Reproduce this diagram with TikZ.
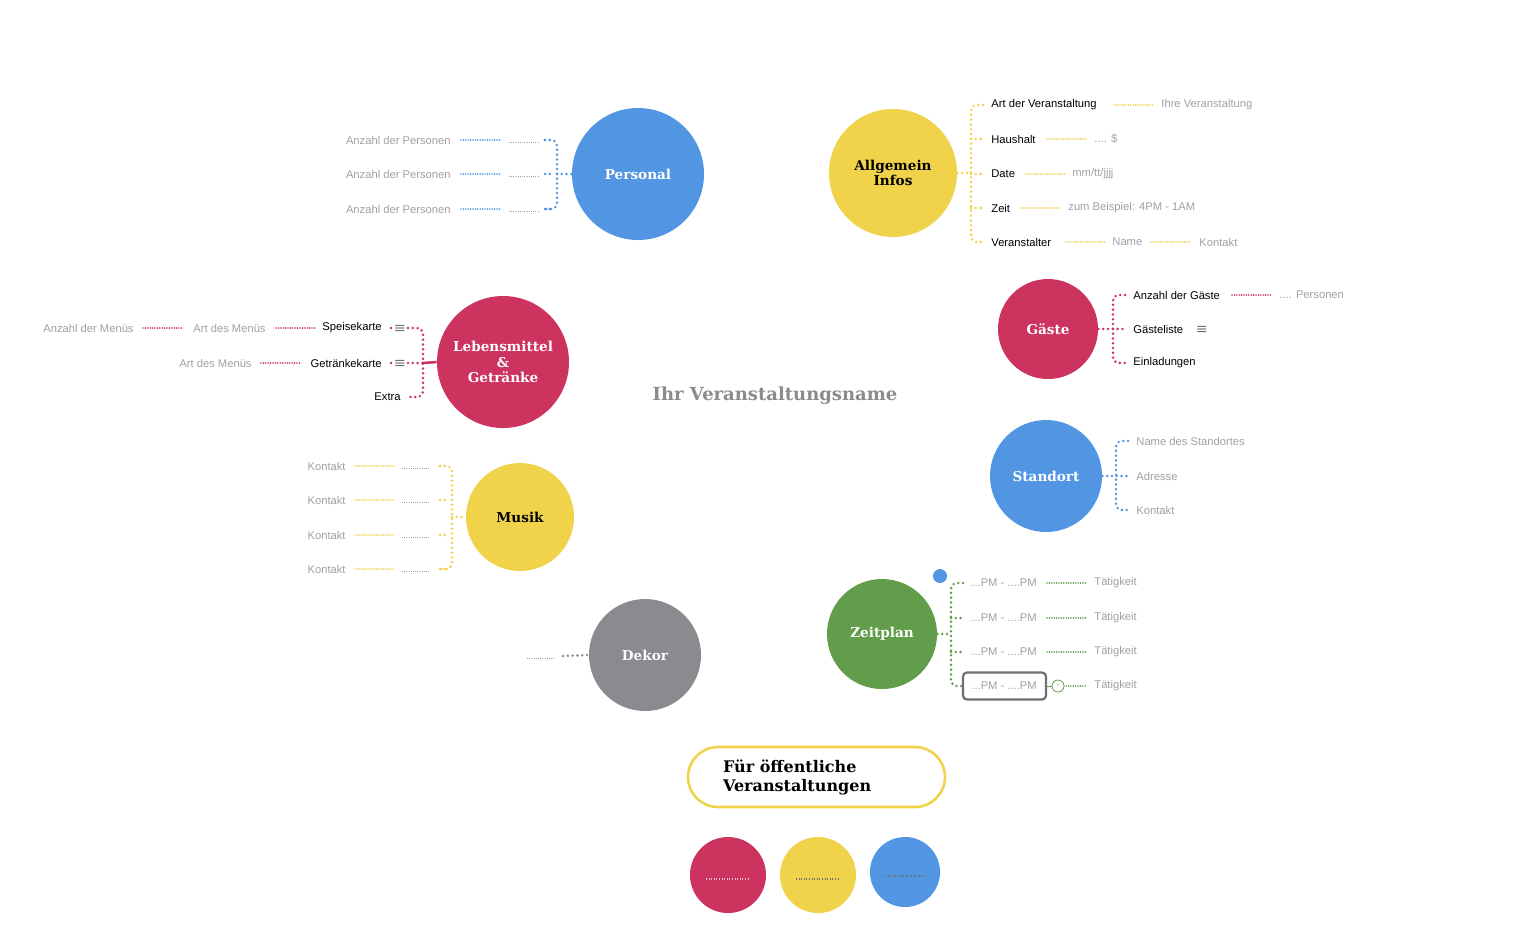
\documentclass[tikz,border=0pt]{standalone}
\usepackage{fontspec}
\setmainfont{Liberation Sans}
\newfontfamily\ttl{DejaVu Serif}
\begin{document}
\definecolor{cb}{HTML}{5295E2}
\definecolor{cy}{HTML}{F0D24B}
\definecolor{cr}{HTML}{CC335E}
\definecolor{cg}{HTML}{619D4A}
\definecolor{ck}{HTML}{8B8B8F}
\definecolor{tg}{HTML}{A0A0A0}
\begin{tikzpicture}[x=0.5pt,y=-0.5pt,
  circ/.style={circle,fill=#1,draw=none,inner sep=0pt},
  ttlt/.style={font=\ttl\bfseries\fontsize{6.8}{7.8}\selectfont,text=white,align=center},
  lbl/.style={font=\fontsize{5.6}{6.5}\selectfont,inner sep=1pt},
  gl/.style={lbl,text=tg},
  bl/.style={lbl,text=black},
  dl/.style={draw=#1,line width=1.4pt,line cap=round,dash pattern=on 0pt off 2.4pt},
  tl/.style={draw=#1,line width=0.9pt,line cap=round,dash pattern=on 0pt off 1.2pt},
  sd/.style={draw=tg,line width=0.5pt,dash pattern=on 0.4pt off 0.7pt},
  rc/.style={rounded corners=3pt}]
\useasboundingbox (0,0) rectangle (1536,950);
% Personal
\node[circ=cb,minimum size=66pt] (P) at (638,174) {};
\node[ttlt] at (P) {Personal};
\foreach \y in {140,174,209}{
 \node[gl,anchor=east] at (453,\y) {Anzahl der Personen};
 \draw[tl=cb] (461,\y) -- (500,\y);
 \draw[sd] (509,\y+2) -- (538,\y+2);
 \draw[dl=cb] (545,\y) -- (553,\y);}
\draw[dl=cb,rc] (545,140) -- (557,140) -- (557,209) -- (545,209);
\draw[dl=cb] (557,174) -- (P.west);
% Allgemein
\node[circ=cy,minimum size=64pt] (A) at (893,173) {};
\node[ttlt,text=black] at (A) {Allgemein\\Infos};
\draw[dl=cy,rc] (983,105) -- (971,105) -- (971,242) -- (983,242);
\draw[dl=cy] (A.east) -- (971,173);
\foreach \y in {139,174,208}{\draw[dl=cy] (971,\y) -- (983,\y);}
\node[bl,anchor=west] at (989,105) {Art der Veranstaltung};
\draw[tl=cy] (1114,105) -- (1153,105);
\node[gl,anchor=west] at (1159,105) {Ihre Veranstaltung};
\node[bl,anchor=west] at (989,139) {Haushalt};
\draw[tl=cy] (1047,139) -- (1086,139);
\node[gl,anchor=west] at (1092,139) {.... \$};
\node[bl,anchor=west] at (989,174) {Date};
\draw[tl=cy] (1026,174) -- (1065,174);
\node[gl,anchor=west] at (1070,174) {mm/tt/jjjj};
\node[bl,anchor=west] at (989,208) {Zeit};
\draw[tl=cy] (1021,208) -- (1060,208);
\node[gl,anchor=west] at (1066,208) {zum Beispiel: 4PM - 1AM};
\node[bl,anchor=west] at (989,242) {Veranstalter};
\draw[tl=cy] (1066,242) -- (1105,242);
\node[gl,anchor=west] at (1110,242) {Name};
\draw[tl=cy] (1151,242) -- (1190,242);
\node[gl,anchor=west] at (1197,242) {Kontakt};
% Gaeste
\node[circ=cr,minimum size=50pt] (G) at (1048,329) {};
\node[ttlt] at (G) {Gäste};
\draw[dl=cr,rc] (1125,295) -- (1113,295) -- (1113,363) -- (1125,363);
\draw[dl=cr] (G.east) -- (1125,329);
\node[bl,anchor=west] at (1131,295) {Anzahl der Gäste};
\draw[tl=cr] (1232,295) -- (1271,295);
\node[gl,anchor=west] at (1277,295) {.... Personen};
\node[bl,anchor=west] at (1131,329) {Gästeliste};
\node[bl] at (1202,329) {$\equiv$};
\node[bl,anchor=west] at (1131,363) {Einladungen};
% Lebensmittel
\node[circ=cr,minimum size=66pt] (L) at (503,362) {};
\node[ttlt] at (L) {Lebensmittel\\\&\\Getränke};
\draw[dl=cr,rc] (408,328) -- (423,328) -- (423,397) -- (408,397);
\draw[dl=cr] (408,363) -- (423,363);
\draw[cr,line width=1.3pt] (423,363) -- (L.west);
\node[bl,anchor=east] at (384,328) {Speisekarte};
\node[bl] at (400,328) {$\equiv$};
\draw[dl=cr] (391,328) -- (392,328);
\node[bl,anchor=east] at (384,363) {Getränkekarte};
\node[bl] at (400,363) {$\equiv$};
\draw[dl=cr] (391,363) -- (392,363);
\node[bl,anchor=east] at (403,397) {Extra};
\draw[tl=cr] (276,328) -- (315,328);
\node[gl,anchor=east] at (268,328) {Art des Menüs};
\draw[tl=cr] (143,328) -- (183,328);
\node[gl,anchor=east] at (136,328) {Anzahl der Menüs};
\draw[tl=cr] (261,363) -- (300,363);
\node[gl,anchor=east] at (254,363) {Art des Menüs};
% title
\node[font=\ttl\bfseries\fontsize{9}{11}\selectfont,text=ck] (T) at (775,396) {Ihr Veranstaltungsname};
% Standort
\node[circ=cb,minimum size=56pt] (S) at (1046,476) {};
\node[ttlt] at (S) {Standort};
\draw[dl=cb,rc] (1128,441) -- (1116,441) -- (1116,510) -- (1128,510);
\draw[dl=cb] (S.east) -- (1128,476);
\node[gl,anchor=west] at (1134,441) {Name des Standortes};
\node[gl,anchor=west] at (1134,476) {Adresse};
\node[gl,anchor=west] at (1134,510) {Kontakt};
% Musik
\node[circ=cy,minimum size=54pt] (M) at (520,517) {};
\node[ttlt,text=black] at (M) {Musik};
\draw[dl=cy,rc] (440,466) -- (452,466) -- (452,569) -- (440,569);
\draw[dl=cy] (452,517) -- (M.west);
\foreach \y in {466,500,535,569}{
 \node[gl,anchor=east] at (348,\y) {Kontakt};
 \draw[tl=cy] (355,\y) -- (394,\y);
 \draw[sd] (402,\y+2) -- (430,\y+2);
 \draw[dl=cy] (440,\y) -- (448,\y);}
% Dekor
\node[circ=ck,minimum size=56pt] (D) at (645,655) {};
\node[ttlt] at (D) {Dekor};
\draw[dl=ck] (563,656) -- (D.west);
\draw[sd] (527,658) -- (555,658);
% Zeitplan
\node[circ=cg,minimum size=55pt] (Z) at (882,634) {};
\node[ttlt] at (Z) {Zeitplan};
\node[circ=cb,minimum size=7pt] (bd) at (940,576) {};
\draw[dl=cg,rc] (963,583) -- (951,583) -- (951,686) -- (963,686);
\draw[dl=cg] (Z.east) -- (951,634);
\foreach \y in {618,652}{\draw[dl=cg] (951,\y) -- (963,\y);}
\foreach \y in {583,618,652,686}{
 \node[gl,anchor=west] at (969,\y) {...PM - ....PM};
 \node[gl,anchor=west] at (1092,\y) {Tätigkeit};}
\foreach \y in {583,618,652}{\draw[tl=cg] (1047,\y) -- (1086,\y);}
\draw[tl=cg] (1066,686) -- (1086,686);
\node[draw=ck!80!black,line width=1.1pt,rounded corners=2pt,minimum width=41.5pt,minimum height=13.5pt] (box) at (1004.5,686) {};
\node[circle,draw=cg,line width=0.4pt,minimum size=6pt,inner sep=0pt,font=\fontsize{4}{4}\selectfont,text=cg] (mn) at (1058,686) {-};
\draw[cg,line width=0.4pt] (box.east) -- (mn.west);
% Box
\node[draw=cy,line width=1.3pt,rounded corners=15pt,minimum width=128.5pt,minimum height=30pt] (F) at (816.5,777) {};
\node[font=\ttl\bfseries\fontsize{8}{9.5}\selectfont,align=left,anchor=west] at (716,777) {Für öffentliche\\Veranstaltungen};
% bottom circles
\node[circ=cr,minimum size=38pt] (c1) at (728,875) {};
\node[circ=cy,minimum size=38pt] (c2) at (818,875) {};
\node[circ=cb,minimum size=35pt] (c3) at (905,872) {};
\draw[white!70!cr,line width=0.6pt,dash pattern=on 0.5pt off 0.8pt] (706,879) -- (750,879);
\draw[ck!80!black,line width=0.6pt,dash pattern=on 0.5pt off 0.8pt] (796,879) -- (840,879);
\draw[ck!80!black,line width=0.6pt,dash pattern=on 0.5pt off 0.8pt] (885,876) -- (925,876);
\end{tikzpicture}
\end{document}
